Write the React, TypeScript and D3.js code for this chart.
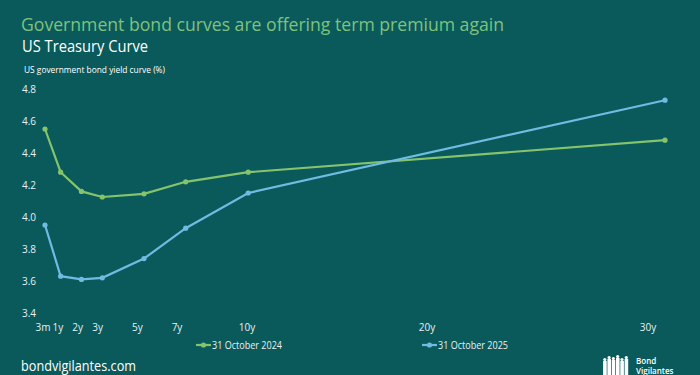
import * as d3 from 'd3'

const W = 700, H = 375
const BG = '#0a5a5c'
const GREEN = '#86c46c'
const BLUE = '#6fbbe2'

const maturities = [0.25, 1, 2, 3, 5, 7, 10, 30]
const yields2024 = [4.55, 4.28, 4.16, 4.125, 4.145, 4.22, 4.28, 4.48]
const yields2025 = [3.95, 3.63, 3.61, 3.62, 3.74, 3.93, 4.15, 4.73]

const tickYears = [0.25, 1, 2, 3, 5, 7, 10, 20, 30]
const tickLabels = ['3m', '1y', '2y', '3y', '5y', '7y', '10y', '20y', '30y']
const yTicks = [3.4, 3.6, 3.8, 4.0, 4.2, 4.4, 4.6, 4.8]

const series = [
  { name: '31 October 2024', values: yields2024, color: GREEN },
  { name: '31 October 2025', values: yields2025, color: BLUE },
]

const FONT = '"Open Sans", "Noto Sans", sans-serif'

export default function App() {
  const x = d3.scaleLinear([0.25, 30], [45, 665])
  // category labels in the original sit a bit left of the points
  const xLab = d3.scaleLinear([0.25, 7, 10, 20, 30], [43, 177, 247, 427, 648])
  const y = d3.scaleLinear([3.4, 4.8], [313, 89])

  const line = d3.line<number>()
    .x((_, i) => x(maturities[i]))
    .y((d) => y(d))

  const legendX = [196, 422]

  return (
    <svg width={W} height={H} style={{ position: 'absolute', left: 0, top: 0, display: 'block' }}>
      <rect width={W} height={H} fill={BG} />
      <text x={21} y={31} fill="#7fc27c" fontFamily={FONT} fontSize={19} textLength={483} lengthAdjust="spacingAndGlyphs">
        Government bond curves are offering term premium again
      </text>
      <text x={22} y={52} fill="#ffffff" fontFamily={FONT} fontSize={16} textLength={126} lengthAdjust="spacingAndGlyphs">
        US Treasury Curve
      </text>
      <text x={24} y={73} fill="#ffffff" fontFamily={FONT} fontSize={8.5} textLength={141} lengthAdjust="spacingAndGlyphs">
        US government bond yield curve (%)
      </text>

      {yTicks.map((t) => (
        <text key={t} x={22} y={y(t)} dy="0.35em" fill="#e8f0f0" fontFamily={FONT} fontSize={10}>
          {d3.format('.1f')(t)}
        </text>
      ))}

      {tickYears.map((t, i) => (
        <text key={t} x={xLab(t)} y={327} dy="0.35em" textAnchor="middle" fill="#e8f0f0" fontFamily={FONT} fontSize={10}>
          {tickLabels[i]}
        </text>
      ))}

      {series.map((s) => (
        <g key={s.name}>
          <path d={line(s.values) ?? ''} fill="none" stroke={s.color} strokeWidth={2.2} />
          {s.values.map((v, i) => (
            <circle key={i} cx={x(maturities[i])} cy={y(v)} r={2.6} fill={s.color} />
          ))}
        </g>
      ))}

      {series.map((s, i) => (
        <g key={s.name} transform={`translate(${legendX[i]},345)`}>
          <line x1={0} x2={15} y1={0} y2={0} stroke={s.color} strokeWidth={2.2} />
          <circle cx={7.5} cy={0} r={2.6} fill={s.color} />
          <text x={16} y={0} dy="0.35em" fill="#e8f0f0" fontFamily={FONT} fontSize={10} textLength={70} lengthAdjust="spacingAndGlyphs">
            {s.name}
          </text>
        </g>
      ))}

      <text x={21} y={370.5} fill="#ffffff" fontFamily={FONT} fontSize={15} textLength={115} lengthAdjust="spacingAndGlyphs">
        bondvigilantes.com
      </text>

      <g fill="#ffffff">
        {[17, 19, 18, 20, 17, 19].map((h, k) => (
          <g key={k} transform={`translate(${603 + k * 4.3},${375 - h})`}>
            <circle cx={1.8} cy={1.5} r={1.6} />
            <rect x={0.1} y={3} width={3.6} height={h - 3} />
          </g>
        ))}
        <text x={636} y={364} fontFamily={FONT} fontSize={8} fontWeight={600}>Bond</text>
        <text x={636} y={373.5} fontFamily={FONT} fontSize={8} fontWeight={600}>Vigilantes</text>
      </g>
    </svg>
  )
}
